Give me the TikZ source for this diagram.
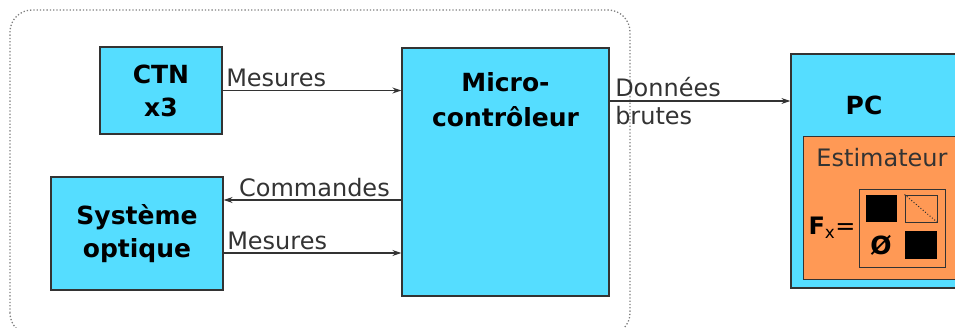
\documentclass[tikz,border=0pt]{standalone}
\usepackage{fontspec}
\setmainfont{DejaVu Sans}
\usetikzlibrary{positioning, arrows.meta}
\definecolor{bloc}{RGB}{85,221,255}
\definecolor{estim}{RGB}{255,153,85}
\definecolor{trait}{RGB}{51,51,51}

\begin{document}
\begin{tikzpicture}[x=1pt, y=1pt,
    bloc node/.style={draw=trait, line width=1.3pt, fill=bloc, inner sep=0pt,
      font=\bfseries\fontsize{25}{33}\selectfont, align=center},
    bloc text/.style={font=\bfseries\fontsize{25}{35}\selectfont, align=center, inner sep=0pt},
    label text/.style={font=\fontsize{24}{28}\selectfont, text=trait, inner sep=3pt},
    flow/.style={draw=trait, line width=1.2pt, -{Stealth[length=9pt, width=6pt]}} ]
  \useasboundingbox (0,0) rectangle (955,327);
  % cadre embarque
  \draw [gray, dotted, line width=1.3pt, rounded corners=22pt] (10,-8) rectangle (630,317);

  \node [bloc node, minimum width=122, minimum height=87] (ctn) at (161,236.5) {CTN\\x3};
  \node [bloc node, minimum width=172, minimum height=113] (sys) at (137,93.5) {Système\\optique};
  \node [bloc node, minimum width=207, minimum height=248] (micro) at (505.5,155) {};
  \node [bloc text] (micro text) at (505.5,227) {Micro-\\contrôleur};

  \node [bloc node, minimum width=184, minimum height=234] (pc) at (883,156) {};
  \node [bloc text] (pc text) at (864,222) {PC};
  \node [draw=trait, line width=1pt, fill=estim, minimum width=167, minimum height=142] (estim) at (886.5,119) {};
  \node [label text] (estim text) at (882,169) {Estimateur};

  % matrice F_x
  \node [font=\fontsize{24}{28}\selectfont, inner sep=0pt] (fx) at (832,99) {{\bfseries F}\textsubscript{x}=};
  \node [draw=trait, line width=1pt, minimum width=86, minimum height=78] (mat) at (902,99) {};
  \node [fill=black, minimum width=31, minimum height=27, inner sep=0pt] (m11) at (881.5,118.5) {};
  \node [draw=trait, line width=1pt, minimum width=32, minimum height=27, inner sep=0pt] (m12) at (921,118.5) {};
  \draw [trait, dotted, line width=1pt] (m12.north west) -- (m12.south east);
  \node [font=\bfseries\fontsize{25}{30}\selectfont, inner sep=0pt] (m21) at (881,82) {Ø};
  \node [fill=black, minimum width=32, minimum height=28, inner sep=0pt] (m22) at (921,82) {};

  \draw [flow] (ctn.east) -- (ctn.east -| micro.west)
    node [label text, pos=0, above right] {Mesures};
  \draw [flow] ([yshift=33.5pt]sys.east -| micro.west) -- ([yshift=33.5pt]sys.east)
    node [label text, pos=0, above left, xshift=-8pt] {Commandes};
  \draw [flow] ([yshift=-19.5pt]sys.east) -- ([yshift=-19.5pt]sys.east -| micro.west)
    node [label text, pos=0, above right] {Mesures};
  \draw [flow] ([yshift=71pt]micro.east) -- ([yshift=71pt]micro.east -| pc.west)
    node [label text, pos=0, right, align=left, xshift=2pt] {Données\\brutes};
\end{tikzpicture}
\end{document}
